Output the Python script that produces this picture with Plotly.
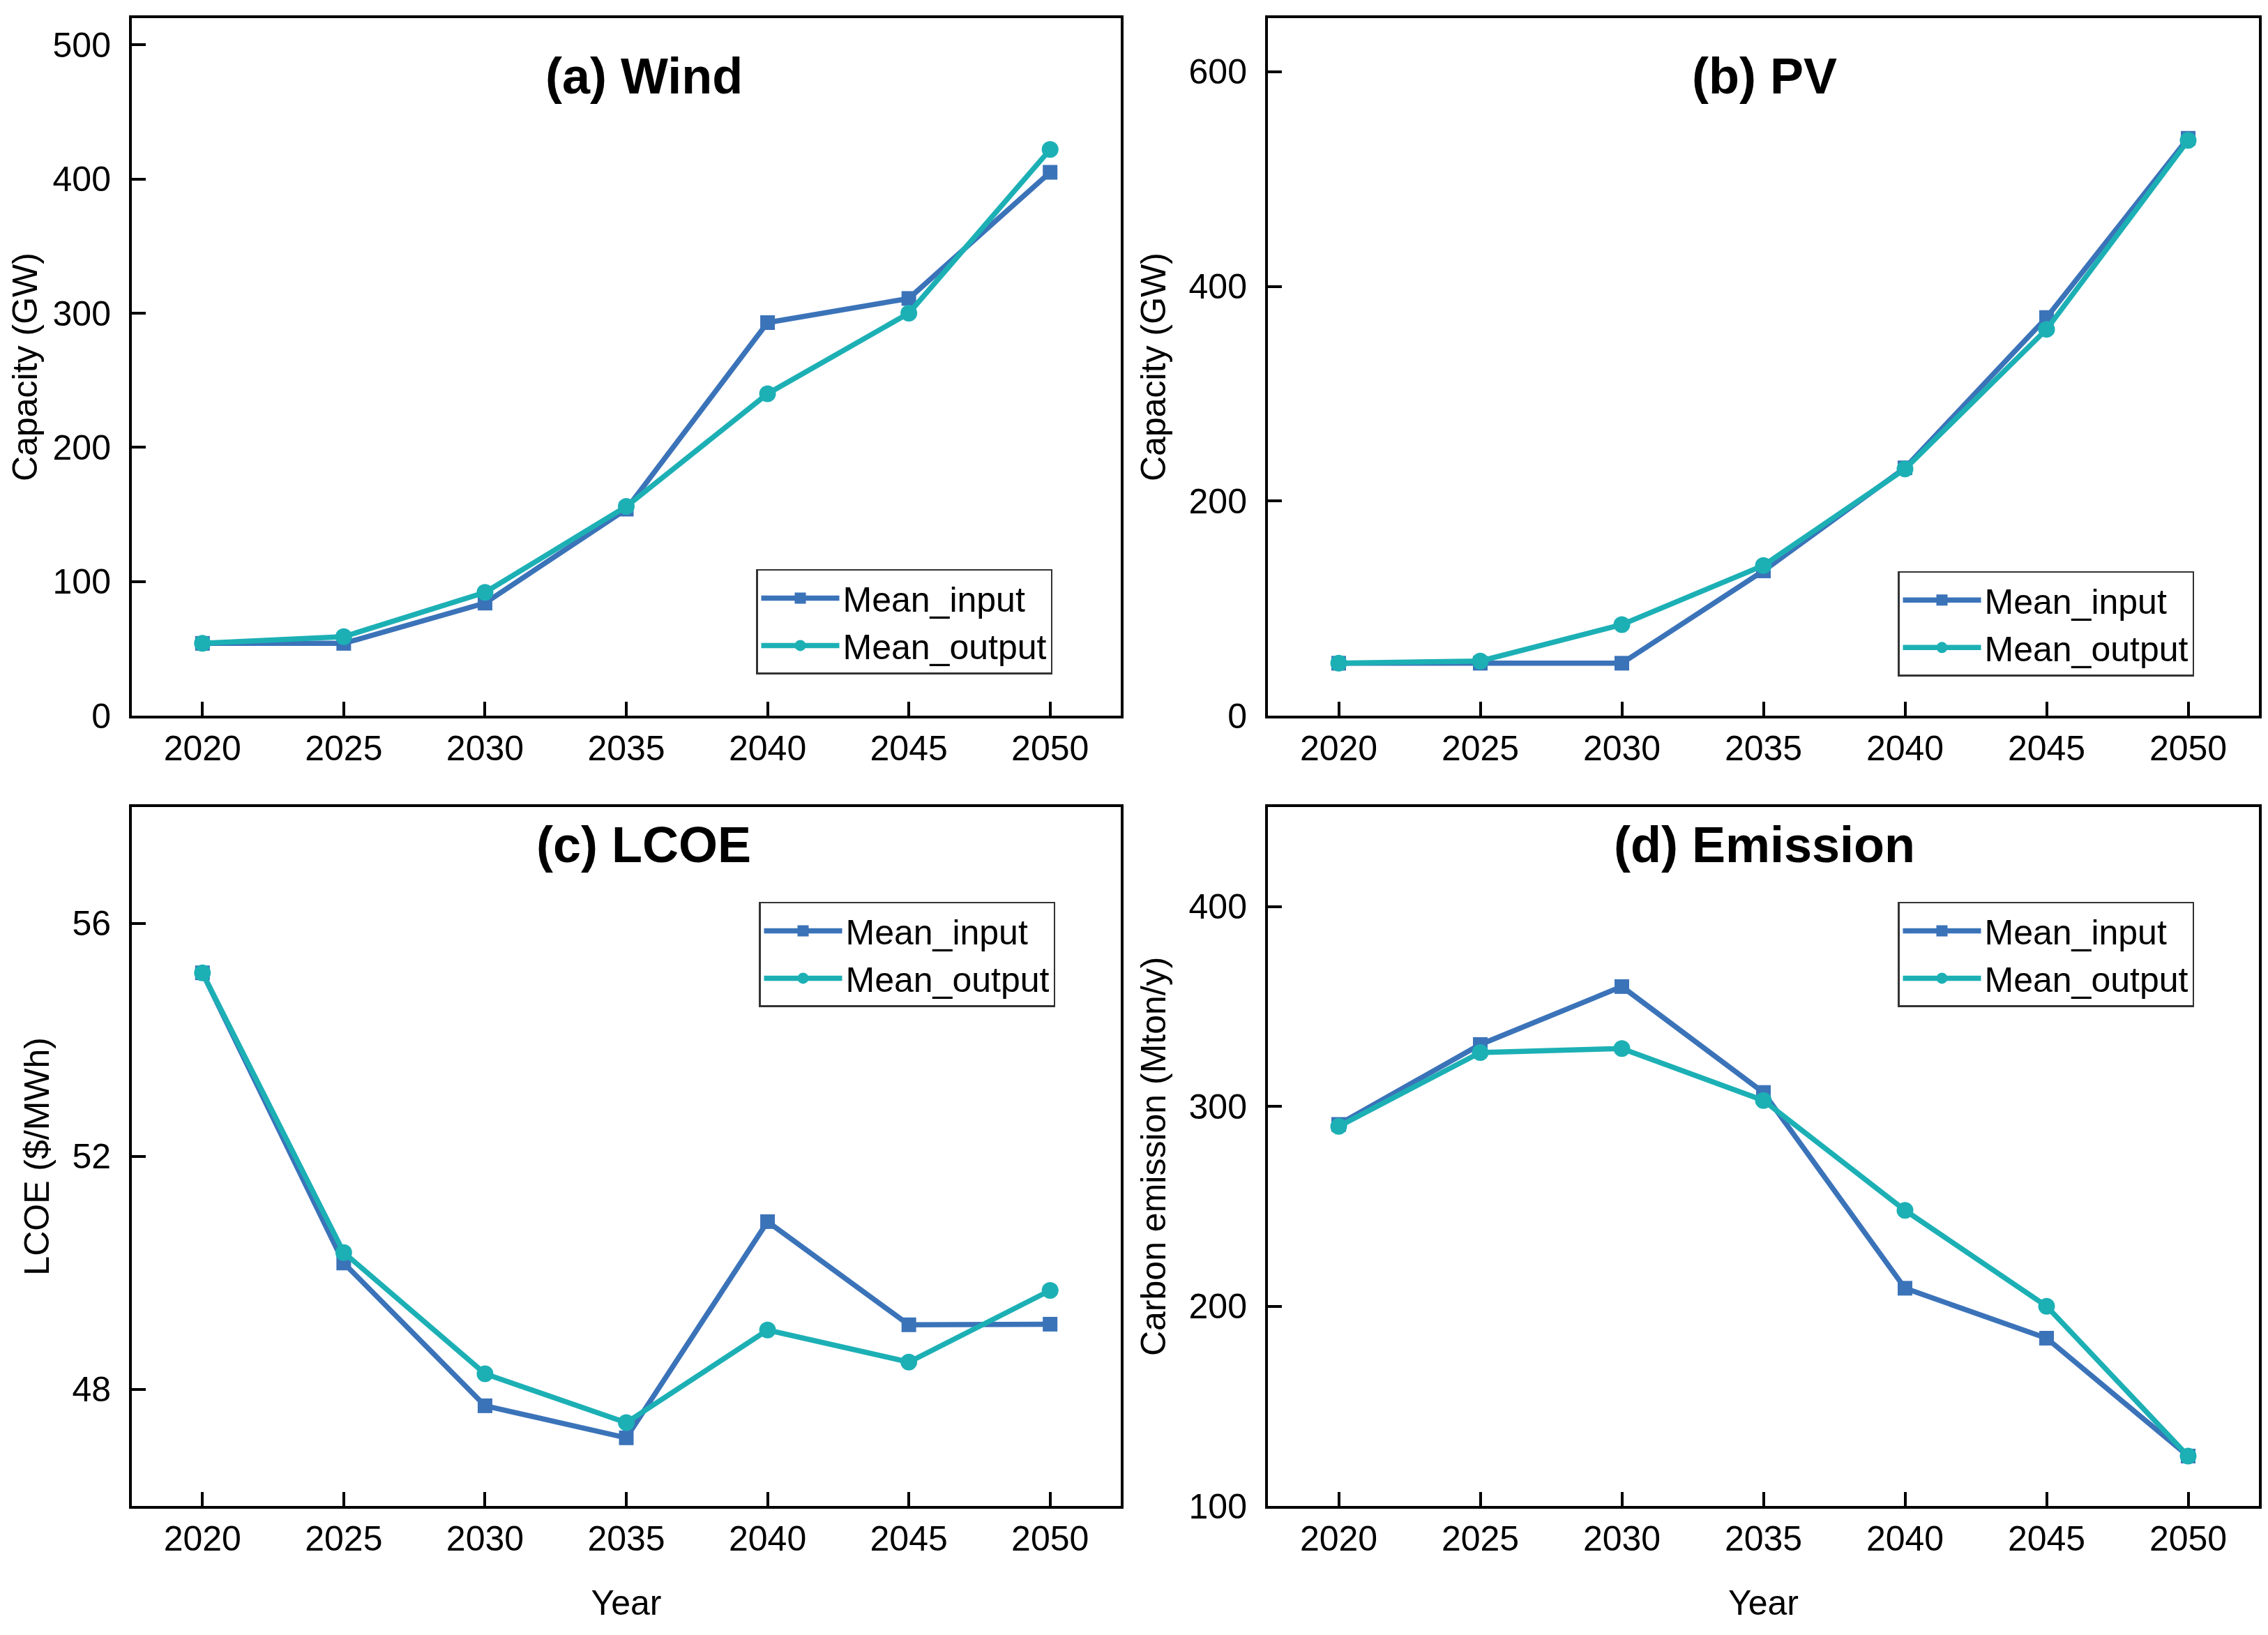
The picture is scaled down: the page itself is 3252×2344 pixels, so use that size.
import plotly.graph_objects as go

years = [2020, 2025, 2030, 2035, 2040, 2045, 2050]
wind_input = [54, 54, 84, 154, 293, 311, 405]
wind_output = [54, 59, 92, 156, 240, 300, 422]
pv_input = [49, 49, 49, 135, 231, 371, 538]
pv_output = [49, 51, 85, 140, 230, 360, 536]
lcoe_input = [55.15, 50.17, 47.72, 47.17, 50.88, 49.11, 49.12]
lcoe_output = [55.15, 50.35, 48.27, 47.43, 49.02, 48.47, 49.70]
emis_input = [291, 331, 360, 307, 209, 184, 125]
emis_output = [290, 327, 329, 303, 248, 200, 125]

panel_titles = ["(a) Wind", "(b) PV", "(c) LCOE", "(d) Emission"]
y_titles = ["Capacity (GW)", "Capacity (GW)", "LCOE ($/MWh)", "Carbon emission (Mton/y)"]
series_names = ["Mean_input", "Mean_output"]

BLUE = "#3b73b9"
TEAL = "#1cb0b5"
FONT = "Arial, Liberation Sans, sans-serif"
W, H = 3252, 2344

panels = [
    (wind_input, wind_output),
    (pv_input, pv_output),
    (lcoe_input, lcoe_output),
    (emis_input, emis_output),
]

xdoms = [[181 / W, 1599 / W], [1810 / W, 3231 / W]]
ydoms = [[1 - 1031 / H, 1 - 18 / H], [1 - 2178 / H, 1 - 1163 / H]]
yranges = [[0, 520], [0, 650], [46, 58], [100, 450]]
ydticks = [100, 200, 4, 100]
yticks0 = [0, 0, 48, 100]

fig = go.Figure()
legend_keys = ["legend", "legend2", "legend3", "legend4"]
legend_pos = [(1076 / W, 1 - 818 / H), (2713 / W, 1 - 821 / H),
              (1080 / W, 1 - 1301 / H), (2713 / W, 1 - 1301 / H)]

for i, (inp, out) in enumerate(panels):
    sfx = "" if i == 0 else str(i + 1)
    for vals, name, col, sym, size in [
        (inp, series_names[0], BLUE, "square", 21),
        (out, series_names[1], TEAL, "circle", 24),
    ]:
        fig.add_trace(go.Scatter(
            x=years, y=vals, name=name, mode="lines+markers",
            line=dict(color=col, width=7.5),
            marker=dict(symbol=sym, size=size, color=col, line=dict(width=0)),
            xaxis="x" + sfx, yaxis="y" + sfx,
            legend=legend_keys[i],
        ))

layout = dict(
    width=W, height=H,
    margin=dict(l=0, r=0, t=0, b=0),
    paper_bgcolor="white", plot_bgcolor="white",
    font=dict(family=FONT, size=50, color="black"),
    showlegend=True,
)

for i in range(4):
    sfx = "" if i == 0 else str(i + 1)
    col, row = i % 2, i // 2
    xa = dict(
        domain=xdoms[col], range=[2017.5, 2052.5], anchor="y" + sfx,
        tickmode="linear", tick0=2020, dtick=5,
        showline=True, mirror=True, linecolor="black", linewidth=4,
        ticks="inside", ticklen=20, tickwidth=4, tickcolor="black",
        showgrid=False, zeroline=False,
        tickfont=dict(size=50, family=FONT), ticklabelstandoff=0,
    )
    if row == 1:
        xa["title"] = dict(text="Year", font=dict(size=50, family=FONT), standoff=48)
    ya = dict(
        domain=ydoms[row], range=yranges[i], anchor="x" + sfx,
        tickmode="linear", tick0=yticks0[i], dtick=ydticks[i],
        showline=True, mirror=True, linecolor="black", linewidth=4,
        ticks="inside", ticklen=20, tickwidth=4, tickcolor="black",
        showgrid=False, zeroline=False,
        tickfont=dict(size=50, family=FONT), ticklabelstandoff=16,
        title=dict(text=y_titles[i], font=dict(size=50, family=FONT), standoff=18),
    )
    layout["xaxis" + sfx] = xa
    layout["yaxis" + sfx] = ya
    lx, ly = legend_pos[i]
    layout[legend_keys[i]] = dict(
        x=lx, y=ly, xanchor="left", yanchor="top",
        bgcolor="white", bordercolor="#333", borderwidth=2.5,
        font=dict(size=50, family=FONT), itemwidth=112, tracegroupgap=0,
    )

title_pos = [(915 / W, 1 - 102 / H), (2522 / W, 1 - 102 / H),
             (915 / W, 1 - 1218 / H), (2522 / W, 1 - 1218 / H)]
annotations = []
for i, t in enumerate(panel_titles):
    annotations.append(dict(
        text="<b>" + t + "</b>", x=title_pos[i][0], y=title_pos[i][1],
        xref="paper", yref="paper", xanchor="center", yanchor="middle",
        showarrow=False, font=dict(size=72, family=FONT, color="black"),
    ))
layout["annotations"] = annotations

fig.update_layout(**layout)
fig.write_html("out.html")
